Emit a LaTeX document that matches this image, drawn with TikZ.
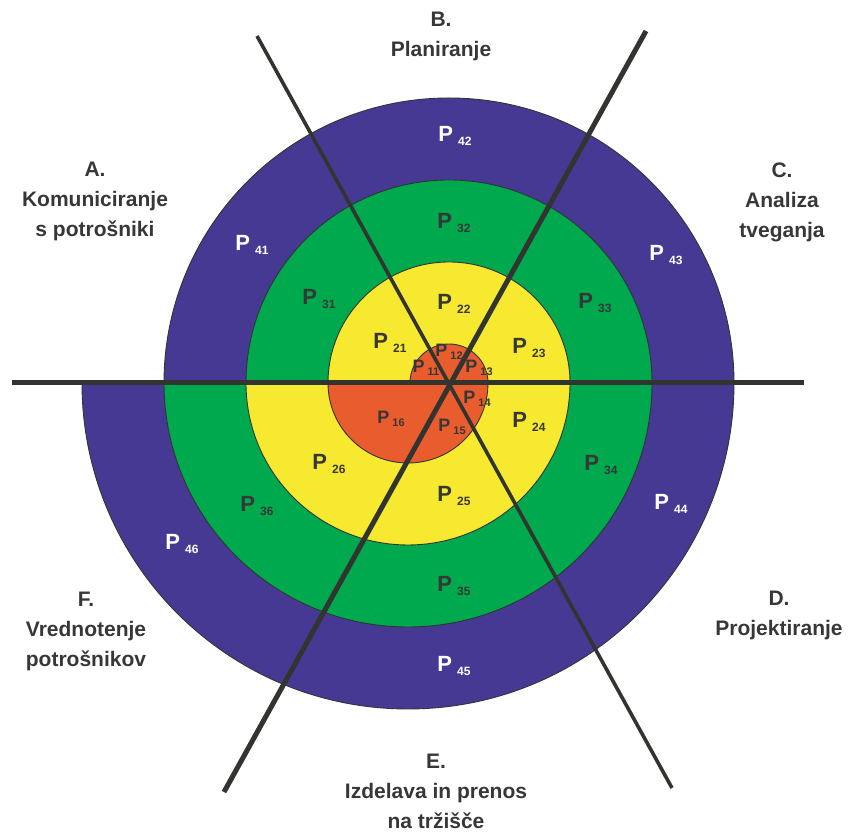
\documentclass[tikz,border=0pt]{standalone}
\usepackage{fontspec}
\setmainfont{Liberation Sans}
\definecolor{cblue}{RGB}{70,57,148}
\definecolor{cgreen}{RGB}{0,168,78}
\definecolor{cyellow}{RGB}{246,233,47}
\definecolor{cred}{RGB}{232,92,46}
\definecolor{edgecol}{RGB}{50,52,50}
\definecolor{linecol}{RGB}{50,52,48}
\definecolor{txtdark}{RGB}{55,55,55}
\newcommand{\plab}[2]{P\kern5pt\raisebox{-4pt}{\fontsize{12}{12}\selectfont #2}}
\newcommand{\plabs}[2]{P\kern3pt\raisebox{-3pt}{\fontsize{11}{11}\selectfont #2}}
\tikzset{
  ringpart/.style={draw=edgecol, line width=0.9pt},
  axisline/.style={draw=linecol, line cap=butt},
  sectlabel/.style={font=\bfseries\fontsize{21}{30}\selectfont, text=txtdark, align=center, inner sep=0pt},
  plabel/.style={font=\bfseries\fontsize{22}{22}\selectfont, text=txtdark, inner sep=0pt},
  plabelw/.style={plabel, text=white},
  plabelsm/.style={font=\bfseries\fontsize{18}{18}\selectfont, text=txtdark, inner sep=0pt}
}
\begin{document}
\begin{tikzpicture}[x=1pt,y=1pt]
\useasboundingbox (0,0) rectangle (855,837);
% spiral rings: upper halves centred at (449,454), lower halves at (408,454)
\foreach \c/\r in {cblue/285, cgreen/203, cyellow/121, cred/39} {
  \filldraw[ringpart, fill=\c] ({449-\r},454) arc[start angle=180, end angle=0, radius=\r] -- cycle;
  \filldraw[ringpart, fill=\c] ({408+\r+41},454) arc[start angle=0, end angle=-180, radius={\r+41}] -- cycle;
}
% axes
\coordinate (hl) at (12,454);
\coordinate (hr) at (804,454);
\coordinate (bs1) at (257,801);
\coordinate (bs2) at (672,49);
\coordinate (fs1) at (646,806);
\coordinate (fs2) at (224,45);
\draw[axisline, line width=5pt] (hl) -- (hr);
\draw[axisline, line width=3.6pt] (bs1) -- (bs2);
\draw[axisline, line width=5pt] (fs1) -- (fs2);
% section labels
\node[sectlabel] (A) at (95,636) {A.\\Komuniciranje\\s potrošniki};
\node[sectlabel] (B) at (441,801) {B.\\Planiranje};
\node[sectlabel] (C) at (782,635) {C.\\Analiza\\tveganja};
\node[sectlabel] (D) at (779,222) {D.\\Projektiranje};
\node[sectlabel] (E) at (436,46) {E.\\Izdelava in prenos\\na tržišče};
\node[sectlabel] (F) at (86,206) {F.\\Vrednotenje\\potrošnikov};
% ring 4 (blue)
\node[plabelw] (p41) at (252,592) {\plab{P}{41}};
\node[plabelw] (p42) at (455,701) {\plab{P}{42}};
\node[plabelw] (p43) at (666,582) {\plab{P}{43}};
\node[plabelw] (p44) at (671,333) {\plab{P}{44}};
\node[plabelw] (p45) at (454,171) {\plab{P}{45}};
\node[plabelw] (p46) at (182,293) {\plab{P}{46}};
% ring 3 (green)
\node[plabel] (p31) at (319,538) {\plab{P}{31}};
\node[plabel] (p32) at (454,614) {\plab{P}{32}};
\node[plabel] (p33) at (595,534) {\plab{P}{33}};
\node[plabel] (p34) at (601,372) {\plab{P}{34}};
\node[plabel] (p35) at (454,251) {\plab{P}{35}};
\node[plabel] (p36) at (257,331) {\plab{P}{36}};
% ring 2 (yellow)
\node[plabel] (p21) at (390,494) {\plab{P}{21}};
\node[plabel] (p22) at (454,533) {\plab{P}{22}};
\node[plabel] (p23) at (529,489) {\plab{P}{23}};
\node[plabel] (p24) at (529,415) {\plab{P}{24}};
\node[plabel] (p25) at (454,341) {\plab{P}{25}};
\node[plabel] (p26) at (329,373) {\plab{P}{26}};
% ring 1 (red)
\node[plabelsm] (p11) at (426,469) {\plabs{P}{11}};
\node[plabelsm] (p12) at (449,485) {\plabs{P}{12}};
\node[plabelsm] (p13) at (479,469) {\plabs{P}{13}};
\node[plabelsm] (p14) at (477,438) {\plabs{P}{14}};
\node[plabelsm] (p15) at (452,410) {\plabs{P}{15}};
\node[plabelsm] (p16) at (391,418) {\plabs{P}{16}};
\end{tikzpicture}
\end{document}
